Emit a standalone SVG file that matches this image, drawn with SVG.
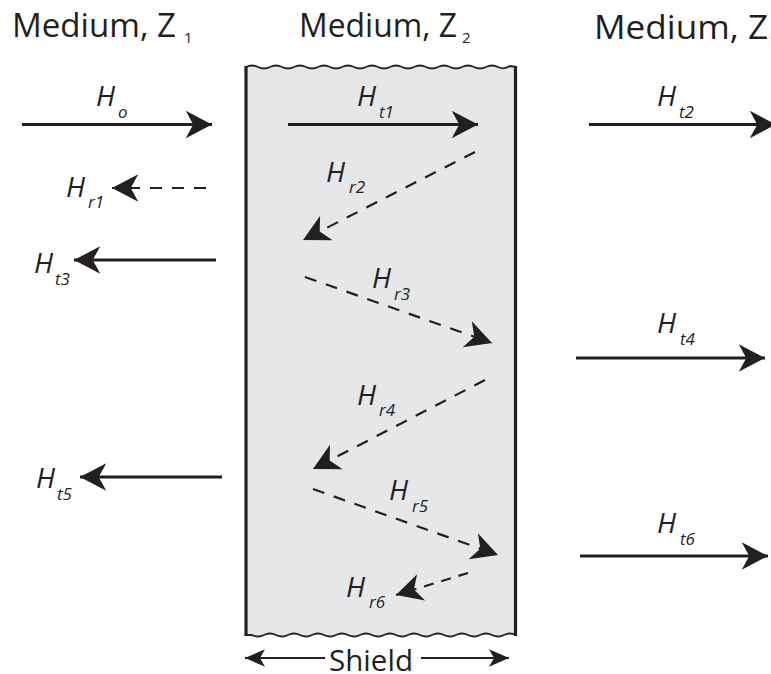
<svg xmlns="http://www.w3.org/2000/svg" width="771" height="674" viewBox="0 0 771 674">
<style>
.title{font-family:"Open Sans","Liberation Sans",sans-serif;font-size:33px;fill:#231f20}
.tsub{font-family:"Open Sans","Liberation Sans",sans-serif;font-size:15px;fill:#231f20}
.h{font-family:"Open Sans","Liberation Sans",sans-serif;font-style:italic;font-size:28px;fill:#231f20}
.s{font-family:"Open Sans","Liberation Sans",sans-serif;font-style:italic;font-size:17px;fill:#231f20}
.solid{stroke:#231f20;stroke-width:2.8;fill:none}
.dash{stroke:#231f20;stroke-width:2.2;fill:none;stroke-dasharray:12 10}
.lbl{font-family:"Open Sans","Liberation Sans",sans-serif;font-size:29px;fill:#231f20}
</style>
<defs>
<marker id="ah" markerUnits="userSpaceOnUse" markerWidth="30" markerHeight="30" refX="0" refY="0" viewBox="-22 -12 24 24" orient="auto" overflow="visible">
<path d="M0 0 L-21 -11 L-15 0 L-21 11 Z" fill="#231f20" stroke="none"/>
</marker>
<marker id="ahs" markerUnits="userSpaceOnUse" markerWidth="30" markerHeight="30" refX="0" refY="0" viewBox="-22 -12 24 24" orient="auto" overflow="visible">
<path d="M0 0 L-16 -7 L-12 0 L-16 7 Z" fill="#231f20" stroke="none"/>
</marker>
<marker id="ahs2" markerUnits="userSpaceOnUse" markerWidth="30" markerHeight="30" refX="0" refY="0" viewBox="-22 -12 24 24" orient="auto-start-reverse" overflow="visible">
<path d="M0 0 L-16 -7 L-12 0 L-16 7 Z" fill="#231f20" stroke="none"/>
</marker>
</defs>

<g id="shield">
<path d="M246 67 q6 -3 12 0 t12 0 t12 0 t12 0 t12 0 t12 0 t12 0 t12 0 t12 0 t12 0 t12 0 t12 0 t12 0 t12 0 t12 0 t12 0 t12 0 t12 0 t12 0 t12 0 t12 0 t12 -1 l6 1 L516 635 q-6 -3 -12 0 t-12 0 t-12 0 t-12 0 t-12 0 t-12 0 t-12 0 t-12 0 t-12 0 t-12 0 t-12 0 t-12 0 t-12 0 t-12 0 t-12 0 t-12 0 t-12 0 t-12 0 t-12 0 t-12 0 t-12 0 t-12 0 l-6 0 Z" fill="#e6e7e8" stroke="none"/>
<path d="M246 67 q6 -3 12 0 t12 0 t12 0 t12 0 t12 0 t12 0 t12 0 t12 0 t12 0 t12 0 t12 0 t12 0 t12 0 t12 0 t12 0 t12 0 t12 0 t12 0 t12 0 t12 0 t12 0 t12 -1 l6 1" fill="none" stroke="#231f20" stroke-width="1.8"/>
<path d="M516 635 q-6 -3 -12 0 t-12 0 t-12 0 t-12 0 t-12 0 t-12 0 t-12 0 t-12 0 t-12 0 t-12 0 t-12 0 t-12 0 t-12 0 t-12 0 t-12 0 t-12 0 t-12 0 t-12 0 t-12 0 t-12 0 t-12 0 t-12 0 l-6 0" fill="none" stroke="#231f20" stroke-width="1.8"/>
<line x1="246" y1="66" x2="246" y2="636" stroke="#231f20" stroke-width="3.2"/>
<line x1="515.5" y1="66" x2="515.5" y2="636" stroke="#231f20" stroke-width="3.2"/>
</g>

<g id="titles">
<text class="title" x="12" y="37" textLength="164" lengthAdjust="spacingAndGlyphs">Medium, Z</text><text class="tsub" x="184" y="43">1</text>
<text class="title" x="299" y="37" textLength="158" lengthAdjust="spacingAndGlyphs">Medium, Z</text><text class="tsub" x="462" y="43">2</text>
<text class="title" x="594" y="39" textLength="174" lengthAdjust="spacingAndGlyphs">Medium, Z</text><text class="tsub" x="769" y="45">1</text>
</g>

<g id="connectors">
<line class="solid" x1="22" y1="124.5" x2="212" y2="124.5" marker-end="url(#ah)"/>
<line class="solid" x1="288" y1="124.5" x2="478" y2="124.5" marker-end="url(#ah)"/>
<line class="solid" x1="589" y1="124.5" x2="776" y2="124.5" marker-end="url(#ah)"/>
<line class="dash" x1="206" y1="188" x2="112" y2="188" marker-end="url(#ah)"/>
<line class="solid" x1="216" y1="260" x2="74" y2="260" marker-end="url(#ah)"/>
<line class="solid" x1="222" y1="477" x2="80" y2="477" marker-end="url(#ah)"/>
<line class="solid" x1="576" y1="358" x2="765" y2="358" marker-end="url(#ah)"/>
<line class="solid" x1="580" y1="556" x2="768" y2="556" marker-end="url(#ah)"/>
<line class="dash" x1="475" y1="152" x2="303" y2="240" marker-end="url(#ah)"/>
<line class="dash" x1="305" y1="277" x2="492" y2="343" marker-end="url(#ah)"/>
<line class="dash" x1="485" y1="380" x2="313" y2="469" marker-end="url(#ah)"/>
<line class="dash" x1="313" y1="489" x2="498" y2="555" marker-end="url(#ah)"/>
<line class="dash" x1="468" y1="573" x2="396" y2="595" marker-end="url(#ah)" style="stroke-dasharray:10 8"/>
<line stroke="#231f20" stroke-width="2" x1="245" y1="658" x2="325" y2="658" marker-start="url(#ahs2)"/>
<line stroke="#231f20" stroke-width="2" x1="421" y1="658" x2="509" y2="658" marker-end="url(#ahs)"/>
</g>

<g id="label-Ho"><text class="h" x="96" y="106">H</text><text class="s" x="118" y="118">o</text></g>
<g id="label-Ht1"><text class="h" x="357" y="106">H</text><text class="s" x="379" y="118">t1</text></g>
<g id="label-Ht2"><text class="h" x="657" y="106">H</text><text class="s" x="679" y="118">t2</text></g>
<g id="label-Hr1"><text class="h" x="66" y="197">H</text><text class="s" x="88" y="208">r1</text></g>
<g id="label-Ht3"><text class="h" x="34" y="273">H</text><text class="s" x="55" y="285">t3</text></g>
<g id="label-Hr2"><text class="h" x="326" y="182">H</text><text class="s" x="349" y="193">r2</text></g>
<g id="label-Hr3"><text class="h" x="372" y="288">H</text><text class="s" x="394" y="300">r3</text></g>
<g id="label-Ht4"><text class="h" x="657" y="333">H</text><text class="s" x="680" y="345">t4</text></g>
<g id="label-Hr4"><text class="h" x="357" y="405">H</text><text class="s" x="379" y="416">r4</text></g>
<g id="label-Ht5"><text class="h" x="36" y="488">H</text><text class="s" x="57" y="500">t5</text></g>
<g id="label-Hr5"><text class="h" x="389" y="500">H</text><text class="s" x="412" y="512">r5</text></g>
<g id="label-Ht6"><text class="h" x="657" y="533">H</text><text class="s" x="680" y="545">t6</text></g>
<g id="label-Hr6"><text class="h" x="346" y="597">H</text><text class="s" x="369" y="608">r6</text></g>
<g id="label-shield"><text class="lbl" x="329" y="671" textLength="84" lengthAdjust="spacingAndGlyphs">Shield</text></g>
</svg>
